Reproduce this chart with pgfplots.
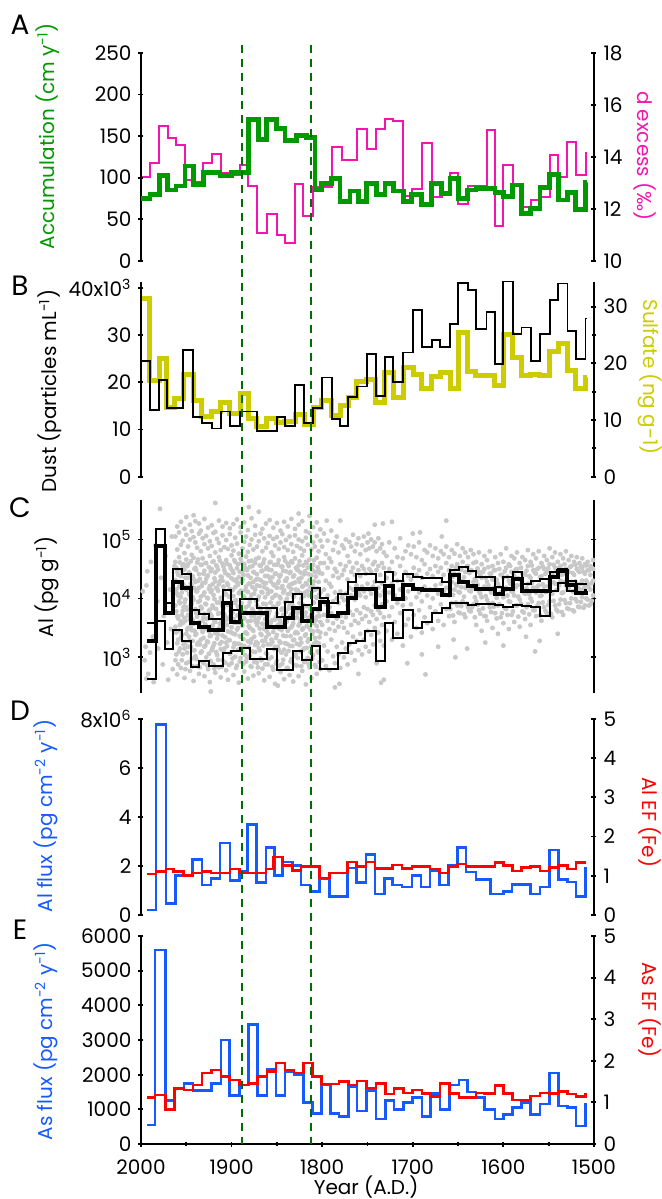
\documentclass[border=0pt]{standalone}
\usepackage{fontspec}
\setmainfont{Poppins}
\usepackage{pgfplots}
\usepackage{pgfplotstable}
\pgfplotsset{compat=1.18}

\definecolor{accg}{RGB}{0,153,0}
\definecolor{dashg}{RGB}{0,110,0}
\definecolor{dex}{RGB}{245,20,175}
\definecolor{sulf}{RGB}{204,204,0}
\definecolor{fluxb}{RGB}{20,90,255}
\definecolor{efr}{RGB}{255,0,0}
\definecolor{ptgray}{RGB}{200,200,200}
\newcommand{\lab}{\fontsize{10}{12}\selectfont}

\pgfplotsset{
  every non boxed x axis/.append style={x axis line style=-},
  every non boxed y axis/.append style={y axis line style=-},
  panel/.style={
    scale only axis, width=226.5pt, xmin=1500, xmax=2000, x dir=reverse,
    anchor=south west, clip mode=individual,
    tick align=outside, major tick length=2.5pt, minor tick length=2pt,
    tick style={black, line width=0.9pt},
    axis line style={black, line width=0.9pt},
    tick label style={font=\lab},
    /pgf/number format/assume math mode=true,
    /pgf/number format/1000 sep={},
  },
  noX/.style={axis x line=none},
  Lax/.style={axis y line=left, y axis line style={-}},
  Rax/.style={axis y line=right, y axis line style={-}},
  step/.style={const plot, no markers},
  pts/.style={only marks, mark=*, mark size=1.0pt, color=ptgray},
}

% Panel C scatter (log10 of Al, pg/g), read approximately from the cloud
\pgfplotstableread{
x a b c d e f g
1962 2.95 3.52 3.88 4.31 4.62 5.05 nan
1960 2.71 3.24 3.70 4.08 4.45 4.83 5.22
1958 3.10 3.45 3.95 4.20 4.70 5.12 nan
1956 2.82 3.33 3.61 4.02 4.38 4.91 5.30
1954 3.05 3.58 3.79 4.25 4.55 4.98 nan
1952 2.65 3.15 3.67 3.93 4.49 4.77 5.18
1950 2.90 3.40 3.85 4.15 4.66 5.08 5.38
1948 3.18 3.50 3.72 4.35 4.58 4.88 nan
1946 2.77 3.28 3.64 4.05 4.42 5.00 5.25
1944 2.98 3.46 3.91 4.22 4.74 5.14 nan
1942 2.60 3.12 3.57 3.98 4.33 4.69 5.04
1940 3.02 3.38 3.82 4.28 4.52 4.95 5.31
1938 2.85 3.22 3.69 4.12 4.61 4.86 nan
1936 2.72 3.55 3.77 4.18 4.41 5.10 5.27
1934 3.08 3.30 3.86 4.03 4.57 4.80 5.15
1932 2.92 3.43 3.62 4.26 4.68 5.02 nan
1930 2.68 3.18 3.74 4.10 4.47 4.92 5.35
1928 3.00 3.48 3.90 4.33 4.60 5.06 nan
1926 2.80 3.26 3.66 4.00 4.39 4.85 5.20
1924 2.58 3.36 3.81 4.21 4.72 4.97 nan
1922 3.12 3.53 3.70 4.14 4.50 4.89 5.24
1920 2.88 3.20 3.84 4.06 4.63 5.11 nan
1918 2.74 3.41 3.60 4.29 4.44 4.78 5.13
1916 3.04 3.32 3.93 4.17 4.54 5.01 nan
1914 2.83 3.49 3.75 4.24 4.70 4.94 5.32
1912 2.66 3.14 3.58 4.01 4.37 4.82 nan
1910 2.95 3.37 3.87 4.30 4.59 5.07 5.22
1908 3.15 3.56 3.73 4.11 4.48 4.87 nan
1906 2.78 3.25 3.63 4.07 4.65 4.99 5.28
1904 2.62 3.44 3.89 4.23 4.40 4.84 nan
1902 3.06 3.29 3.68 4.16 4.56 5.09 5.19
1900 2.90 3.51 3.80 4.34 4.73 4.90 nan
1898 2.70 3.17 3.65 4.04 4.43 4.81 5.26
1896 3.01 3.39 3.92 4.19 4.62 5.03 nan
1894 2.86 3.47 3.71 4.27 4.51 4.93 5.34
1892 2.57 3.23 3.59 4.09 4.36 4.76 nan
1890 2.99 3.35 3.83 4.13 4.67 5.12 5.21
1888 3.11 3.54 3.76 4.32 4.46 4.85 nan
1886 2.76 3.19 3.66 4.02 4.58 4.96 5.29
1884 2.93 3.42 3.85 4.20 4.71 5.05 nan
1882 2.64 3.27 3.61 4.11 4.39 4.79 5.16
1880 3.03 3.50 3.94 4.25 4.53 4.91 nan
1878 2.84 3.31 3.70 4.06 4.64 5.00 5.36
1876 2.69 3.45 3.78 4.28 4.45 4.83 nan
1874 3.09 3.21 3.63 4.15 4.60 5.08 5.23
1872 2.91 3.55 3.88 4.22 4.41 4.88 nan
1870 2.73 3.16 3.67 4.03 4.69 4.97 5.47
1868 2.98 3.40 3.81 4.31 4.55 5.10 nan
1866 2.81 3.28 3.57 4.10 4.47 4.80 5.18
1864 2.61 3.48 3.74 4.19 4.66 5.02 nan
1862 3.07 3.34 3.90 4.26 4.50 4.86 5.27
1860 2.88 3.22 3.69 4.08 4.38 4.94 nan
1858 2.67 3.52 3.79 4.35 4.61 5.06 5.33
1856 3.00 3.30 3.62 4.12 4.48 4.78 nan
1854 2.79 3.43 3.86 4.24 4.72 5.01 5.20
1852 2.55 3.18 3.64 4.05 4.42 4.90 nan
1850 2.94 3.38 3.75 4.18 4.57 5.04 5.28
1848 3.13 3.49 3.92 4.29 4.65 4.84 nan
1846 2.75 3.25 3.60 4.00 4.40 4.95 5.15
1844 2.89 3.56 3.83 4.21 4.54 5.09 nan
1842 2.63 3.13 3.71 4.14 4.70 4.87 5.30
1840 3.05 3.36 3.77 4.30 4.46 4.99 nan
1838 2.82 3.45 3.66 4.07 4.59 4.82 5.22
1836 2.70 3.20 3.89 4.23 4.43 5.05 nan
1834 2.97 3.51 3.73 4.16 4.63 4.92 5.35
1832 2.59 3.29 3.58 4.02 4.37 4.79 nan
1830 3.02 3.41 3.84 4.27 4.68 5.07 5.18
1828 2.86 3.23 3.68 4.11 4.49 4.89 nan
1826 2.68 3.54 3.80 4.33 4.56 5.00 5.25
1824 3.10 3.32 3.63 4.09 4.44 4.85 nan
1822 2.77 3.47 3.91 4.20 4.73 4.97 5.31
1820 2.92 3.15 3.70 4.04 4.41 4.81 nan
1818 2.54 3.39 3.76 4.26 4.62 5.03 5.14
1816 2.99 3.27 3.61 4.13 4.52 4.91 nan
1814 2.83 3.50 3.87 4.31 4.66 5.11 5.40
1812 2.65 3.19 3.72 4.06 4.39 4.83 nan
1810 3.04 3.44 3.65 4.22 4.57 4.95 5.21
1808 2.87 3.33 3.82 4.15 4.45 4.88 nan
1806 2.72 3.53 3.69 4.01 4.69 5.06 5.29
1804 3.08 3.24 3.78 4.28 4.48 4.80 nan
1802 2.80 3.42 3.60 4.10 4.60 4.98 5.17
}\scatD

\pgfplotstableread{
x a b c d e
1961 3.05 3.42 3.78 4.15 4.52
1959 2.88 3.30 3.66 4.05 4.40
1957 3.15 3.55 3.92 4.28 4.61
1955 2.95 3.38 3.72 4.10 4.47
1953 3.22 3.60 3.85 4.22 4.58
1951 2.80 3.25 3.62 3.98 4.35
1949 3.08 3.47 3.81 4.19 4.55
1947 2.92 3.35 3.70 4.08 4.44
1945 3.18 3.52 3.89 4.25 4.63
1943 2.85 3.28 3.64 4.02 4.38
1941 3.12 3.45 3.80 4.17 4.50
1939 2.97 3.40 3.75 4.12 4.48
1937 3.25 3.58 3.94 4.30 4.66
1935 2.83 3.22 3.60 3.96 4.33
1933 3.10 3.48 3.83 4.21 4.57
1931 2.90 3.33 3.68 4.06 4.42
1929 3.20 3.56 3.91 4.27 4.60
1927 2.86 3.27 3.65 4.01 4.37
1925 3.06 3.44 3.79 4.16 4.53
1923 2.94 3.37 3.73 4.11 4.46
1921 3.16 3.54 3.88 4.24 4.62
1919 2.81 3.24 3.61 3.99 4.34
1917 3.09 3.46 3.82 4.18 4.56
1915 2.96 3.39 3.74 4.13 4.49
1913 3.23 3.57 3.93 4.29 4.64
1911 2.84 3.26 3.63 4.00 4.36
1909 3.11 3.49 3.84 4.20 4.54
1907 2.91 3.34 3.69 4.07 4.43
1905 3.19 3.55 3.90 4.26 4.59
1903 2.87 3.29 3.66 4.03 4.39
1901 3.07 3.43 3.78 4.15 4.51
1899 2.98 3.41 3.76 4.14 4.47
1897 3.24 3.59 3.95 4.31 4.65
1895 2.82 3.23 3.59 3.97 4.32
1893 3.13 3.50 3.86 4.23 4.58
1891 2.93 3.36 3.71 4.09 4.45
1889 3.21 3.57 3.92 4.28 4.61
1887 2.89 3.31 3.67 4.04 4.40
1885 3.04 3.42 3.77 4.14 4.52
1883 2.99 3.40 3.75 4.12 4.48
1881 3.17 3.53 3.88 4.25 4.63
1879 2.85 3.25 3.62 4.00 4.35
1877 3.10 3.47 3.82 4.19 4.55
1875 2.92 3.35 3.70 4.08 4.44
1873 3.26 3.60 3.96 4.32 4.67
1871 2.83 3.24 3.60 3.98 4.33
1869 3.12 3.49 3.84 4.21 4.56
1867 2.95 3.38 3.73 4.11 4.46
1865 3.20 3.56 3.91 4.27 4.60
1863 2.88 3.28 3.65 4.02 4.38
1861 3.06 3.44 3.79 4.16 4.53
1859 2.97 3.39 3.74 4.13 4.49
1857 3.22 3.58 3.93 4.29 4.62
1855 2.84 3.26 3.63 4.01 4.36
1853 3.14 3.50 3.85 4.22 4.57
1851 2.90 3.33 3.68 4.06 4.42
1849 3.18 3.55 3.90 4.26 4.59
1847 2.86 3.27 3.64 4.03 4.37
1845 3.08 3.46 3.81 4.18 4.54
1843 2.96 3.37 3.72 4.10 4.47
1841 3.24 3.59 3.94 4.30 4.64
1839 2.82 3.23 3.61 3.99 4.34
1837 3.11 3.48 3.83 4.20 4.55
1835 2.93 3.36 3.71 4.09 4.45
1833 3.19 3.54 3.89 4.25 4.61
1831 2.87 3.30 3.66 4.04 4.39
1829 3.05 3.43 3.78 4.15 4.52
1827 2.99 3.41 3.76 4.14 4.48
1825 3.21 3.57 3.92 4.28 4.63
1823 2.85 3.25 3.62 4.00 4.35
1821 3.13 3.49 3.84 4.21 4.56
1819 2.94 3.37 3.72 4.10 4.46
1817 3.16 3.53 3.87 4.24 4.60
1815 2.89 3.31 3.67 4.05 4.41
1813 3.09 3.47 3.82 4.19 4.54
1811 2.98 3.40 3.75 4.13 4.49
1809 3.23 3.58 3.93 4.29 4.65
1807 2.84 3.26 3.63 4.02 4.37
1805 3.10 3.45 3.80 4.17 4.53
1803 2.92 3.34 3.70 4.07 4.43
1800 2.95 3.55 3.98 4.42 4.88
1798 3.20 3.72 4.15 4.60 5.10
1796 2.85 3.40 3.90 4.30 4.75
1794 3.10 3.62 4.05 4.52 4.98
1792 2.78 3.48 3.85 4.25 4.68
1790 3.30 3.75 4.20 4.62 5.15
1788 3.02 3.58 3.95 4.38 4.82
1786 2.90 3.45 4.10 4.50 4.95
1784 3.18 3.66 4.00 4.45 5.05
1782 3.05 3.52 3.92 4.35 4.78
1780 2.82 3.70 4.12 4.58 5.32
1778 3.25 3.60 4.02 4.40 4.90
1776 3.00 3.50 3.97 4.48 4.85
1774 3.15 3.68 4.08 4.55 5.00
1772 2.88 3.42 3.88 4.32 4.72
1770 3.22 3.78 4.18 4.62 4.96
1768 3.08 3.55 4.05 4.45 4.88
1766 3.35 3.72 4.15 4.52 5.08
1764 2.95 3.62 3.98 4.40 4.80
1762 3.28 3.80 4.22 4.60 4.92
1760 3.12 3.58 4.10 4.48 5.02
1758 3.40 3.75 4.05 4.38 4.75
1756 3.05 3.65 4.20 4.55 4.90
1754 3.30 3.85 4.12 4.50 5.05
1752 3.18 3.70 4.02 4.42 4.82
1750 3.45 3.82 4.25 4.65 4.95
1748 3.10 3.60 4.15 4.50 4.85
1746 3.38 3.78 4.08 4.45 5.00
1744 3.22 3.72 4.20 4.58 4.88
1742 3.50 3.88 4.28 4.62 4.95
1740 2.90 3.65 4.10 4.48 4.80
1738 3.42 3.80 4.18 4.55 5.02
1736 3.28 3.75 4.05 4.40 4.85
1734 3.55 3.90 4.25 4.60 4.92
1732 3.20 3.68 4.12 4.52 4.78
}\scatM

\pgfplotstableread{
x a b c d
1729 3.45 3.95 4.35 4.72
1726 3.70 4.10 4.50 4.95
1723 3.30 3.85 4.25 4.62
1720 3.60 4.05 4.42 4.85
1717 3.40 3.92 4.30 4.70
1714 3.75 4.15 4.55 5.02
1711 3.20 3.88 4.28 4.68
1708 3.55 4.00 4.45 4.80
1705 3.65 4.12 4.38 4.90
1702 3.35 3.90 4.32 4.75
1699 3.72 4.18 4.52 4.88
1696 3.50 4.02 4.40 4.70
1693 3.80 4.10 4.48 4.95
1690 3.42 3.95 4.35 4.65
1687 3.68 4.20 4.58 4.82
1684 3.58 4.05 4.42 4.78
1681 3.85 4.15 4.50 4.90
1678 3.48 4.00 4.38 4.72
1675 3.78 4.22 4.55 4.85
1672 3.62 4.08 4.45 4.68
1669 3.90 4.25 4.52 4.80
1666 3.55 4.12 4.40 4.75
1663 3.82 4.18 4.60 4.88
1660 3.70 4.05 4.48 4.70
1657 3.92 4.28 4.55 4.82
1654 3.60 4.15 4.42 4.76
1651 3.88 4.22 4.58 4.92
1648 3.75 4.10 4.50 4.72
1645 3.95 4.30 4.62 4.85
1642 3.68 4.18 4.45 4.78
1639 3.85 4.25 4.55 4.70
1636 3.78 4.12 4.48 4.82
1633 3.90 4.28 4.60 4.75
1630 3.55 3.95 4.30 4.62
1627 3.80 4.12 4.45 4.78
1624 3.45 4.02 4.35 4.58
1621 3.70 4.20 4.50 4.72
1618 3.62 3.98 4.28 4.65
1615 3.85 4.15 4.42 4.80
1612 3.50 3.92 4.32 4.55
1609 3.75 4.08 4.48 4.70
1606 3.40 3.88 4.25 4.60
1603 3.68 4.10 4.40 4.75
1600 3.58 4.02 4.35 4.62
1597 3.82 4.18 4.52 4.85
1594 3.48 3.95 4.30 4.58
1591 3.72 4.12 4.45 4.72
1588 3.60 4.05 4.38 4.68
1585 3.88 4.22 4.50 4.78
1582 3.52 3.98 4.32 4.60
1579 3.78 4.15 4.42 4.70
1576 3.65 4.08 4.40 4.65
1573 3.90 4.25 4.55 4.82
1570 3.55 4.00 4.35 4.62
1567 3.80 4.18 4.48 4.75
1564 3.70 4.10 4.42 4.68
1561 3.92 4.22 4.52 4.80
1558 3.62 4.05 4.38 4.60
1555 3.85 4.20 4.50 4.72
1552 3.75 4.12 4.45 4.65
1549 3.95 4.28 4.58 4.85
1546 3.68 4.08 4.40 4.70
1543 3.88 4.25 4.52 4.78
1540 3.78 4.15 4.48 4.62
1537 3.98 4.30 4.55 4.75
1534 3.72 4.10 4.42 4.68
1531 3.92 4.22 4.50 4.80
1528 3.82 4.18 4.45 4.65
1525 4.00 4.28 4.55 4.72
1522 3.78 4.12 4.40 4.62
1519 3.95 4.25 4.50 4.70
1516 3.85 4.15 4.45 4.60
1513 4.02 4.30 4.52 4.68
1510 3.88 4.20 4.42 4.58
1507 3.98 4.25 4.48 4.62
1504 3.90 4.15 4.40 4.55
1501 4.05 4.30 4.50 4.65
1658.5 3.82 4.15 4.46 nan
1655.5 3.71 4.06 4.37 nan
1652.5 3.93 4.24 4.52 nan
1649.5 3.76 4.11 4.41 nan
1646.5 3.87 4.19 4.49 nan
1643.5 3.73 4.03 4.36 nan
1640.5 3.91 4.21 4.54 nan
1637.5 3.79 4.13 4.43 nan
1634.5 3.85 4.17 4.47 nan
1631.5 3.68 4.02 4.33 nan
1628.5 3.89 4.23 4.51 nan
1625.5 3.74 4.08 4.39 nan
1622.5 3.83 4.16 4.45 nan
1619.5 3.70 4.04 4.35 nan
1616.5 3.92 4.22 4.53 nan
1613.5 3.77 4.10 4.42 nan
1610.5 3.86 4.18 4.48 nan
1607.5 3.66 4.01 4.32 nan
1604.5 3.90 4.20 4.50 nan
1601.5 3.75 4.09 4.40 nan
1598.5 3.84 4.14 4.46 nan
1595.5 3.72 4.05 4.37 nan
1592.5 3.94 4.25 4.55 nan
1589.5 3.78 4.12 4.43 nan
1586.5 3.88 4.19 4.49 nan
1583.5 3.69 4.03 4.34 nan
1580.5 3.91 4.23 4.52 nan
1577.5 3.76 4.10 4.41 nan
1574.5 3.85 4.17 4.47 nan
1571.5 3.73 4.07 4.38 nan
1568.5 3.95 4.26 4.56 nan
1565.5 3.80 4.13 4.44 nan
1562.5 3.87 4.20 4.50 nan
1559.5 3.71 4.04 4.36 nan
1556.5 3.93 4.24 4.54 nan
1553.5 3.79 4.11 4.42 nan
1550.5 3.89 4.21 4.51 nan
1547.5 3.74 4.08 4.39 nan
1544.5 3.96 4.27 4.57 nan
1541.5 3.81 4.14 4.45 nan
1538.5 3.90 4.22 4.52 nan
1535.5 3.77 4.09 4.40 nan
1532.5 3.97 4.28 4.58 nan
1529.5 3.83 4.15 4.46 nan
1526.5 3.92 4.23 4.53 nan
1523.5 3.80 4.12 4.43 nan
1520.5 3.99 4.29 4.57 nan
1517.5 3.86 4.18 4.47 nan
1514.5 3.94 4.25 4.54 nan
1511.5 3.84 4.16 4.45 nan
1508.5 4.00 4.30 4.56 nan
1505.5 3.88 4.19 4.48 nan
1502.5 3.96 4.26 4.52 nan
}\scatS

\pgfplotstableread{
x y
1998 4.12
1996 2.95
1995 3.18
1994 4.22
1994 2.64
1993 4.46
1992 2.72
1990 3.08
1989 4.62
1987 3.35
1986 2.58
1984 4.90
1982 3.95
1981 3.15
1979 5.52
1978 4.35
1976 2.88
1975 3.70
1973 4.72
1971 3.25
1970 2.62
1968 4.15
1967 3.48
1966 5.05
1965 2.80
1964 3.88
1963 4.55
1918 5.62
1942 5.41
1881 5.55
1826 5.44
1795 5.32
1733 5.27
1723 5.30
1663 5.32
1749 5.10
1923 2.42
1849 2.52
1786 2.49
1735 2.57
1686 2.71
1653 3.00
1565 3.10
1732 2.62
1781 2.55
1760 2.72
1706 2.90
1690 3.05
1672 3.18
1655 3.30
1640 3.15
1620 3.25
1600 3.20
1575 3.35
1560 3.28
1540 3.40
1692 5.12
1668 5.05
1742 5.25
1700 5.10
}\scatO

% Panel C binned lines (log10 values): median, upper, lower
\pgfplotstableread{
x med up lo
1993 3.28 3.58 2.63
1983.4 4.89 5.17 3.62
1973.1 3.76 3.93 3.14
1964.3 4.27 4.50 3.46
1954.7 4.17 4.41 3.27
1944.8 3.59 3.80 2.84
1935.6 3.52 3.73 2.94
1924.6 3.46 3.65 2.86
1910 3.93 4.14 3.07
1900.7 3.60 3.80 3.10
1890.7 3.75 3.99 3.16
1880 3.75 3.99 2.97
1872.3 3.75 3.83 2.97
1861.3 3.52 3.83 3.15
1850.2 3.51 3.68 2.79
1841.1 3.67 3.94 2.79
1831.9 3.83 4.07 3.10
1822.7 3.62 3.89 2.95
1811.7 3.82 4.18 3.20
1802.5 3.94 4.00 2.81
1793.3 3.71 3.93 2.80
1782.3 3.75 4.07 3.07
1772 4.01 4.27 3.24
1762.5 4.16 4.42 3.28
1752.8 4.16 4.42 3.44
1741 3.86 4.27 2.94
1730.7 4.21 4.44 3.58
1721.5 3.99 4.29 3.32
1710.4 4.23 4.41 3.80
1699.4 4.16 4.37 3.49
1690.2 4.14 4.35 3.60
1679.2 4.14 4.35 3.75
1668.1 4.06 4.27 3.83
1658.9 4.40 4.48 3.93
1649.3 4.27 4.54 3.92
1639.5 4.21 4.46 3.88
1630.3 4.16 4.37 3.90
1620 4.16 4.37 3.90
1609.3 4.07 4.19 3.88
1600 4.16 4.36 3.86
1589.8 4.33 4.44 3.88
1580 4.13 4.24 3.87
1569.8 4.13 4.29 3.85
1559.6 4.13 4.33 3.70
1548.9 4.37 4.44 4.13
1539.5 4.47 4.50 4.26
1529.3 4.22 4.29 4.13
1520 4.10 4.24 4.07
1509.3 4.13 4.24 4.10
1508.5 4.13 4.24 4.10
}\lines

\begin{document}
\begin{tikzpicture}
\useasboundingbox (0,0) rectangle (330.5pt,599.5pt);

% ---------------- Panel A ----------------
\begin{axis}[panel, noX, Rax, at={(70.5pt,469.15pt)}, height=103.85pt,
  ymin=10, ymax=18, ytick={10,12,14,16,18}]
\addplot[step, dex, line width=1pt] coordinates {
(2000,13.23) (1990.1,13.77) (1979.8,15.18) (1970.6,14.74) (1961.4,14.45) (1951.4,13.12)
(1942.2,13.03) (1931.2,13.77) (1922,14.10) (1912.1,13.38) (1903.6,13.29) (1890.7,13.68)
(1881.5,12.88) (1872.3,11.07) (1861.3,11.78) (1850.2,10.99) (1841.1,10.70) (1830,12.94)
(1820.8,11.72) (1809.8,12.85) (1789.5,14.38) (1778.5,13.87) (1761.9,15.09) (1750.9,14.29)
(1741,15.09) (1730.7,15.44) (1721.5,15.38) (1710.4,12.50) (1701.2,12.75) (1690.2,14.54)
(1679.2,12.46) (1668.1,12.59) (1658.9,13.39) (1649.7,12.18) (1639.4,12.88) (1618.6,15.02)
(1609.3,11.34) (1600,13.68) (1589.8,12.94) (1580,12.08) (1569.8,12.34) (1559.6,12.46)
(1548.9,14.06) (1539.5,13.23) (1529.3,14.58) (1520,13.30) (1509.3,14.16) (1508.5,14.16)};
\node[rotate=-90, text=dex, font=\lab] at (axis description cs:1.113,0.504) {d excess (‰)};
\end{axis}
\begin{axis}[panel, noX, Lax, at={(70.5pt,469.15pt)}, height=103.85pt,
  ymin=0, ymax=250, ytick={0,50,100,150,200,250}]
\addplot[step, accg, line width=2.4pt] coordinates {
(2000,75) (1990.1,80) (1979.8,103) (1970.6,85) (1961.4,90) (1951.4,114) (1942.2,92)
(1931.2,106) (1912.8,103) (1899.9,106) (1881.5,170) (1870.5,146) (1861.3,170) (1850.2,159)
(1841.1,145) (1828.2,151) (1817.1,148) (1807.9,85) (1800.6,93) (1789.5,99) (1780.3,71)
(1769.3,84) (1760.1,71) (1750.9,93) (1739.9,80) (1730.7,93) (1721.5,84) (1710.4,71)
(1701.2,80) (1690.2,68) (1679.2,93) (1668.1,81) (1658.9,99) (1649.7,75) (1639.4,85)
(1630.3,87) (1609.3,82) (1600,77) (1589.8,91) (1580,57) (1569.8,63) (1559.6,88)
(1548.9,104) (1539.5,73) (1529.3,82) (1520,62) (1509.3,94) (1508.5,94)};
\node[rotate=90, text=accg, font=\lab] at (axis description cs:-0.205,0.60) {Accumulation (cm y\textsuperscript{-1})};
\coordinate (dA1) at (axis cs:1888,260);
\coordinate (dA2) at (axis cs:1812,260);
\end{axis}

% ---------------- Panel B ----------------
\begin{axis}[panel, noX, Rax, at={(70.5pt,361.15pt)}, height=97.5pt,
  ymin=0, ymax=34.4, ytick={0,10,20,30}, minor ytick={5,15,25}]
\addplot[step, sulf, line width=2.5pt] coordinates {
(2000,31.4) (1990.1,16.9) (1979.8,20.9) (1971.7,12.2) (1962.5,13.8) (1953.3,18.1) (1942.2,13.4)
(1933,10.6) (1922,11.5) (1912.1,13.1) (1901.8,11.2) (1890.7,14.7) (1881.5,10.3) (1872.3,8.8)
(1861.3,10.2) (1850.2,9.6) (1841.1,9.7) (1830,11.0) (1819.8,9.2) (1809.8,12.2) (1800.6,13.4)
(1789.5,10.8) (1780.3,12.5) (1771.1,13.9) (1761.9,16.8) (1750.9,17.2) (1741,13.1) (1730.7,18.4)
(1721.5,13.9) (1710.4,19.2) (1699.4,18.1) (1690.2,15.5) (1679.2,17.6) (1669.9,18.4) (1658.9,15.5)
(1649.7,25.5) (1639.4,18.5) (1630.3,17.8) (1609.3,16.0) (1600,25.0) (1589.8,21.0) (1580,17.8)
(1569.8,18.0) (1559.6,17.8) (1548.9,22.0) (1539.5,23.5) (1529.3,18.8) (1520,15.5) (1509.3,17.5) (1508.5,17.5)};
\node[rotate=-90, text=sulf, font=\lab] at (axis description cs:1.124,0.511) {Sulfate (ng g-1)};
\end{axis}
\begin{axis}[panel, noX, Lax, at={(70.5pt,361.15pt)}, height=97.5pt,
  ymin=0, ymax=41.3, ytick={0,10,20,30,40}, yticklabels={0,10,20,30,40x10\textsuperscript{3}}]
\addplot[step, black, line width=0.9pt] coordinates {
(2000,24.5) (1990.1,14.1) (1979.8,20.5) (1971.7,14.6) (1953.3,26.8) (1942.2,12.7) (1933,11.3)
(1922,10.2) (1912.1,13.8) (1901.8,10.7) (1890.7,13.8) (1872.3,9.7) (1850.2,12.7) (1841.1,10.8)
(1830,19.5) (1819.8,11.4) (1809.8,14.6) (1800.6,21.0) (1789.5,12.2) (1780.3,10.7) (1771.1,16.9)
(1761.9,19.1) (1750.9,25.9) (1741,17.1) (1730.7,25.4) (1721.5,20.0) (1710.4,26.3) (1699.4,35.3)
(1690.2,27.5) (1679.2,28.9) (1669.9,27.5) (1658.9,32.3) (1649.7,41.1) (1639.4,39.5) (1630.3,31.2)
(1618.6,34.9) (1609.3,23.9) (1600,41.5) (1589.8,30.2) (1580,31.6) (1569.8,24.5) (1559.6,30.2)
(1548.9,37.5) (1539.5,40.9) (1529.3,30.9) (1520,24.9) (1509.3,33.5) (1508.5,33.5)};
\node[rotate=90, font=\lab] at (axis description cs:-0.201,0.44) {Dust (particles mL\textsuperscript{-1})};
\end{axis}

% ---------------- Panel C ----------------
\begin{axis}[panel, noX, Rax, at={(70.5pt,252.85pt)}, height=96.65pt,
  ymin=2.39, ymax=5.67, ytick={3,4,5}, yticklabels={}]
\end{axis}
\begin{axis}[panel, noX, Lax, at={(70.5pt,252.85pt)}, height=96.65pt,
  ymin=2.39, ymax=5.67, ytick={3,4,5},
  yticklabels={10\textsuperscript{3},10\textsuperscript{4},10\textsuperscript{5}}]
\addplot[pts] table[x=x,y=a]{\scatD};
\addplot[pts] table[x=x,y=b]{\scatD};
\addplot[pts] table[x=x,y=c]{\scatD};
\addplot[pts] table[x=x,y=d]{\scatD};
\addplot[pts] table[x=x,y=e]{\scatD};
\addplot[pts] table[x=x,y=f]{\scatD};
\addplot[pts] table[x=x,y=g]{\scatD};
\addplot[pts] table[x=x,y=a]{\scatM};
\addplot[pts] table[x=x,y=b]{\scatM};
\addplot[pts] table[x=x,y=c]{\scatM};
\addplot[pts] table[x=x,y=d]{\scatM};
\addplot[pts] table[x=x,y=e]{\scatM};
\addplot[pts] table[x=x,y=a]{\scatS};
\addplot[pts] table[x=x,y=b]{\scatS};
\addplot[pts] table[x=x,y=c]{\scatS};
\addplot[pts] table[x=x,y=d]{\scatS};
\addplot[pts] table[x=x,y=y]{\scatO};
\addplot[step, black, line width=1pt] table[x=x,y=lo]{\lines};
\addplot[step, black, line width=1pt] table[x=x,y=up]{\lines};
\addplot[step, black, line width=2pt] table[x=x,y=med]{\lines};
\node[rotate=90, font=\lab] at (axis description cs:-0.2075,0.55) {Al (pg g\textsuperscript{-1})};
\end{axis}

% ---------------- Panel D ----------------
\begin{axis}[panel, noX, Lax, at={(70.5pt,142pt)}, height=98pt,
  ymin=0, ymax=8, ytick={0,2,4,6,8}, yticklabels={0,2,4,6,8x10\textsuperscript{6}}]
\addplot[step, fluxb, line width=1.3pt] coordinates {
(1993,0.2) (1983.4,7.77) (1972.4,0.48) (1962.1,1.61) (1943,2.26) (1932.7,1.23) (1922.8,1.5)
(1912.8,2.94) (1901.8,1.41) (1891.5,1.8) (1882.3,3.69) (1872.3,1.33) (1862,2.76) (1852.8,1.61)
(1843.6,2.16) (1832.6,2.01) (1823.4,1.23) (1813.5,0.96) (1803.2,1.5) (1792.2,0.75) (1771.9,1.92)
(1762,1.33) (1751.7,2.46) (1741.8,0.86) (1731.5,1.5) (1722.3,1.23) (1712,1.14) (1701,1.61)
(1691.1,1.14) (1680.8,1.82) (1670.8,1.23) (1660.5,2.02) (1650.6,2.76) (1641.4,1.75) (1630.3,1.45)
(1614,0.85) (1600,0.95) (1590.7,1.25) (1569.8,0.85) (1559.6,1.15) (1548.9,2.65) (1539.5,1.45)
(1529.3,1.35) (1520,0.75) (1509.3,1.9) (1508.5,1.9)};
\node[rotate=90, text=fluxb, font=\lab] at (axis description cs:-0.21,0.505) {Al flux (pg cm\textsuperscript{-2} y\textsuperscript{-1})};
\end{axis}
\begin{axis}[panel, noX, Rax, at={(70.5pt,142pt)}, height=98pt,
  ymin=0, ymax=5, ytick={0,1,2,3,4,5}]
\addplot[step, efr, line width=1.3pt] coordinates {
(1993,1.05) (1983.4,1.11) (1972.4,1.17) (1964.3,1.11) (1953.3,1.01) (1943,1.07) (1932.7,1.11)
(1922.8,1.07) (1912.8,1.07) (1901.8,1.17) (1891.5,1.07) (1862,1.17) (1853.9,1.48) (1843.6,1.26)
(1832.6,1.13) (1823.4,1.24) (1803.2,0.94) (1792.2,1.07) (1771.9,1.35) (1762,1.24) (1751.7,1.35)
(1741.8,1.18) (1722.3,1.28) (1712,1.18) (1701,1.24) (1680.8,1.17) (1670.8,1.07) (1660.5,1.24)
(1650.6,1.30) (1641.4,1.24) (1630.3,1.23) (1609.3,1.34) (1600,1.26) (1589.8,1.12) (1580,1.21)
(1569.8,1.23) (1559.6,1.12) (1548.9,1.21) (1539.5,1.26) (1529.3,1.17) (1520,1.34) (1509.3,1.34)};
\node[rotate=-90, text=efr, font=\lab] at (axis description cs:1.124,0.474) {Al EF (Fe)};
\end{axis}

% ---------------- Panel E ----------------
\begin{axis}[panel, Lax, at={(70.5pt,27.5pt)}, height=104pt,
  ymin=0, ymax=6000, ytick={0,1000,...,6000},
  axis x line=bottom, x axis line style={-},
  xticklabel style={yshift=-3pt},
  xtick={1500,1600,1700,1800,1900,2000}, minor xtick={1550,1650,1750,1850,1950}]
\addplot[step, fluxb, line width=1.3pt] coordinates {
(1993,550) (1984.7,5600) (1973,1250) (1962.8,1600) (1952.6,1750) (1942.8,1550) (1922.3,1750)
(1911.6,3000) (1902.3,1400) (1891.6,1700) (1881.4,3450) (1871.2,1400) (1860.9,2150) (1851.2,1400)
(1840.9,2100) (1831.2,2000) (1820.9,1200) (1810.7,880) (1800.9,1700) (1790.7,880) (1781.4,800)
(1771.2,1650) (1761.4,950) (1751.2,1550) (1740.5,720) (1730.2,1250) (1720.9,1000) (1710.2,1200)
(1700,1350) (1689.8,800) (1680.5,1450) (1669.8,1000) (1659.5,1700) (1648.9,1850) (1639.5,1500)
(1630.3,1350) (1621,1000) (1609.3,720) (1600,850) (1589.8,1050) (1580,1200) (1569.8,850)
(1559.6,1150) (1548.9,2050) (1539.5,1100) (1529.3,1050) (1520,520) (1509.3,1150) (1508.5,1150)};
\node[rotate=90, text=fluxb, font=\lab] at (axis description cs:-0.21,0.494) {As flux (pg cm\textsuperscript{-2} y\textsuperscript{-1})};
\node[font=\lab] at (axis description cs:0.497,-0.205) {Year (A.D.)};
\coordinate (dE1) at (axis cs:1888,0);
\coordinate (dE2) at (axis cs:1812,0);
\end{axis}
\begin{axis}[panel, noX, Rax, at={(70.5pt,27.5pt)}, height=104pt,
  ymin=0, ymax=5, ytick={0,1,2,3,4,5}]
\addplot[step, efr, line width=1.3pt] coordinates {
(1993,1.12) (1984.7,1.18) (1973,0.83) (1962.8,1.34) (1952.6,1.30) (1942.8,1.42) (1932.6,1.71)
(1922.3,1.78) (1911.6,1.62) (1902.3,1.54) (1891.6,1.42) (1881.4,1.46) (1871.2,1.62) (1860.9,1.74)
(1851.2,1.95) (1840.9,1.78) (1831.2,1.71) (1820.9,1.95) (1810.7,1.62) (1800.9,1.44) (1790.7,1.44)
(1781.4,1.50) (1771.2,1.42) (1761.4,1.51) (1751.2,1.35) (1740.5,1.46) (1730.2,1.20) (1720.9,1.34)
(1710.2,1.23) (1700,1.30) (1689.8,1.22) (1680.5,1.14) (1669.8,1.46) (1659.5,1.22) (1648.9,1.12)
(1630.3,1.23) (1621,1.22) (1609.3,1.40) (1600,1.22) (1589.8,1.06) (1580,1.06) (1569.8,1.15)
(1559.6,1.23) (1548.9,1.22) (1539.5,1.26) (1529.3,1.20) (1520,1.14) (1509.3,1.20) (1508.5,1.20)};
\node[rotate=-90, text=efr, font=\lab] at (axis description cs:1.124,0.644) {As EF (Fe)};
\end{axis}

% dashed reference lines
\draw[dashg, line width=1pt, dash pattern=on 4pt off 3pt] (dA1) -- (dE1);
\draw[dashg, line width=1pt, dash pattern=on 4pt off 3pt] (dA2) -- (dE2);

% panel letters
\node[font=\fontsize{14}{16}\selectfont] at (10pt,587pt) {A};
\node[font=\fontsize{14}{16}\selectfont] at (10pt,456.5pt) {B};
\node[font=\fontsize{14}{16}\selectfont] at (10pt,345.5pt) {C};
\node[font=\fontsize{14}{16}\selectfont] at (10pt,244pt) {D};
\node[font=\fontsize{14}{16}\selectfont] at (10pt,134.5pt) {E};
\end{tikzpicture}
\end{document}
